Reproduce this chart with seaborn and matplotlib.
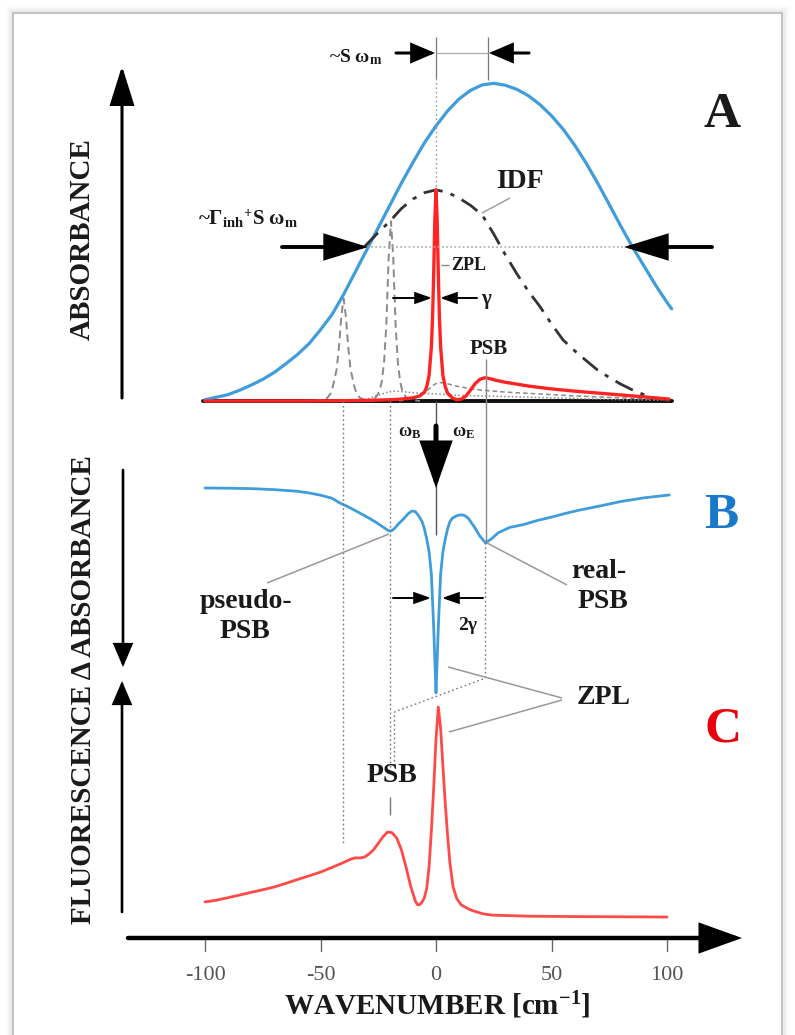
import matplotlib
matplotlib.use("Agg")
import matplotlib.pyplot as plt
import seaborn as sns
from matplotlib.patches import Rectangle

# ---------------- data ----------------
TICKS = [-100, -50, 0, 50, 100]
TICK_LABELS = ["-100", "-50", "0", "50", "100"]

# Panel A: broad absorption band (blue)
A_BAND_X = [-100, -95, -90, -85, -80, -75, -70, -65, -60, -55, -50, -45, -40, -35, -30, -25,
            -20, -15, -10, -5, 0, 5, 10, 15, 20, 25, 30, 35, 40, 45, 50, 55, 60, 65, 70, 75,
            80, 85, 90, 95, 100, 102]
A_BAND_Y = [0.004, 0.012, 0.020, 0.034, 0.050, 0.068, 0.090, 0.117, 0.146, 0.180, 0.224, 0.272,
            0.335, 0.405, 0.475, 0.545, 0.615, 0.685, 0.750, 0.812, 0.865, 0.912, 0.950, 0.977,
            0.994, 0.999, 0.993, 0.980, 0.960, 0.932, 0.897, 0.855, 0.805, 0.748, 0.685, 0.618,
            0.550, 0.485, 0.425, 0.365, 0.310, 0.290]

# Panel A: inhomogeneous distribution function (dash-dot)
IDF_X = [-31, -25, -20, -15, -10, -5, 0, 5, 10, 15, 20, 25, 30, 35, 40, 45, 50, 55, 60, 65, 70,
         75, 80, 85, 90, 95, 101]
IDF_Y = [0.485, 0.530, 0.565, 0.605, 0.635, 0.655, 0.664, 0.656, 0.638, 0.615, 0.585, 0.525,
         0.460, 0.400, 0.345, 0.297, 0.242, 0.192, 0.158, 0.127, 0.097, 0.074, 0.053, 0.035,
         0.020, 0.009, 0.001]

# Panel A: homogeneous line (ZPL + PSB, red)
ZPL_X = [-100, -60, -40, -30, -20, -15, -10, -7, -5, -4, -3, -2, -1.5, -1, -0.5, 0, 0.5, 1, 1.5,
         2, 3, 4, 5, 7, 9, 11, 13, 15, 17, 19, 21, 23, 26, 30, 35, 40, 50, 60, 70, 80, 90, 101]
ZPL_Y = [0.0, 0.0, 0.001, 0.002, 0.004, 0.006, 0.010, 0.016, 0.028, 0.045, 0.080, 0.170, 0.260,
         0.400, 0.570, 0.664, 0.570, 0.400, 0.260, 0.170, 0.080, 0.045, 0.025, 0.010, 0.004,
         0.006, 0.016, 0.035, 0.055, 0.068, 0.073, 0.071, 0.065, 0.059, 0.053, 0.047, 0.038,
         0.031, 0.025, 0.019, 0.013, 0.006]

# Panel A: shifted (pseudo) zero-phonon lines (grey dashed)
PZ1_X = [-53, -49, -47, -45.5, -44.5, -43, -42, -41, -40, -39, -38, -37, -35.5, -34.5, -33, -31, -27]
PZ1_Y = [0.0, 0.004, 0.010, 0.025, 0.050, 0.100, 0.170, 0.265, 0.322, 0.265, 0.170, 0.100,
         0.050, 0.025, 0.010, 0.004, 0.0]
PZ2_X = [-32, -28, -26, -24.5, -23.5, -22.5, -21.5, -20.5, -19.5, -18.5, -17.5, -16.5, -15.5,
         -14.5, -13, -11, -7]
PZ2_Y = [0.0, 0.005, 0.012, 0.030, 0.060, 0.120, 0.240, 0.450, 0.565, 0.450, 0.240, 0.120,
         0.060, 0.030, 0.012, 0.005, 0.0]

# Panel A: phonon side bands of the pseudo lines
PSB2_X = [-16, -10, -5, -2, 0, 2, 5, 10, 15, 20, 30, 40, 50, 60, 70, 80, 90, 100]
PSB2_Y = [0.0, 0.008, 0.025, 0.045, 0.055, 0.058, 0.054, 0.045, 0.039, 0.034, 0.028, 0.024,
          0.020, 0.016, 0.013, 0.010, 0.007, 0.004]
PSB1_X = [-36, -30, -25, -21, -18, -14, -8, 0, 10, 20, 30, 40, 50, 60, 70, 80, 90, 100]
PSB1_Y = [0.0, 0.006, 0.018, 0.028, 0.031, 0.029, 0.025, 0.022, 0.018, 0.016, 0.014, 0.012,
          0.010, 0.008, 0.006, 0.004, 0.003, 0.002]

# Panel B: hole-burned difference spectrum (blue)
B_X = [-100, -90, -80, -70, -60, -55, -50, -45, -41.6, -38, -35, -32, -29, -26, -23, -21, -20,
       -19, -18, -16, -14, -12, -10.4, -9, -8, -7, -6, -5, -4, -3, -2, -1, -0.5, 0, 0.5, 1, 2,
       3, 4, 5, 6, 7, 8.5, 10, 11.2, 12.5, 14, 16.6, 19, 21.5, 24, 27, 32, 38, 44, 50, 56, 62,
       70, 80, 90, 101]
B_Y = [0.0, -0.001, -0.003, -0.008, -0.016, -0.024, -0.035, -0.050, -0.073, -0.092, -0.110,
       -0.128, -0.147, -0.167, -0.190, -0.205, -0.210, -0.207, -0.198, -0.172, -0.150, -0.125,
       -0.112, -0.115, -0.128, -0.145, -0.165, -0.200, -0.250, -0.310, -0.420, -0.680, -0.840,
       -1.0, -0.840, -0.680, -0.420, -0.310, -0.250, -0.200, -0.165, -0.148, -0.138, -0.132,
       -0.131, -0.135, -0.148, -0.190, -0.235, -0.268, -0.248, -0.218, -0.192, -0.178, -0.158,
       -0.142, -0.124, -0.108, -0.090, -0.066, -0.048, -0.034]

# Panel C: fluorescence spectrum (red)
C_X = [-100, -95, -90, -85, -80, -75, -70, -65, -60, -55, -50, -45, -40, -37, -35, -33, -31, -29,
       -27, -25, -23, -21, -19, -17, -15, -13, -11, -9, -8, -7, -6, -5, -4, -3, -2, -1, 0, 1,
       2, 3, 4, 5, 6, 7.4, 9, 11, 15, 20, 24, 40, 60, 80, 100]
C_Y = [0.085, 0.093, 0.105, 0.117, 0.130, 0.142, 0.155, 0.172, 0.190, 0.207, 0.225, 0.247,
       0.270, 0.285, 0.292, 0.291, 0.295, 0.310, 0.330, 0.360, 0.390, 0.413, 0.410, 0.385,
       0.330, 0.250, 0.160, 0.090, 0.072, 0.072, 0.085, 0.105, 0.150, 0.250, 0.420, 0.620,
       0.850, 1.0, 0.900, 0.720, 0.550, 0.400, 0.270, 0.155, 0.100, 0.070, 0.047, 0.030,
       0.023, 0.018, 0.016, 0.015, 0.014]

# ---------------- layout ----------------
W, H = 795, 1035
X0, PXU = 436, 2.31          # pixel of wavenumber 0, pixels per cm-1
A_BASE, A_SCALE = 401, 318
B_BASE, B_SCALE = 488, 205
C_BASE, C_SCALE = 920, 213

BLUE = "#3f9ddc"
RED = "#ff2424"
RED_C = "#ff4a4a"
GREY = "#8a8a8a"
SERIF = ["Liberation Serif", "DejaVu Serif"]

sns.set_theme(style="white")
plt.rcParams["font.family"] = SERIF
plt.rcParams["mathtext.fontset"] = "custom"
plt.rcParams["mathtext.rm"] = "Liberation Serif:bold"
plt.rcParams["mathtext.it"] = "Liberation Serif:bold"
plt.rcParams["mathtext.bf"] = "Liberation Serif:bold"


def px2x(px):
    return (px - X0) / PXU


XLIM = (px2x(0), px2x(W))

fig = plt.figure(figsize=(W / 100, H / 100), dpi=100)
fig.patch.set_facecolor("white")


def panel_axes(base, scale, z):
    ax = fig.add_axes([0, 0, 1, 1], zorder=z)
    ax.set_xlim(XLIM)
    ax.set_ylim((base - H) / scale, base / scale)
    ax.patch.set_alpha(0)
    ax.axis("off")
    return ax


axA = panel_axes(A_BASE, A_SCALE, 2)
axB = panel_axes(B_BASE, B_SCALE, 2)
axC = panel_axes(C_BASE, C_SCALE, 2)
ann = fig.add_axes([0, 0, 1, 1], zorder=3)
ann.set_xlim(XLIM)
ann.set_ylim(H, 0)
ann.patch.set_alpha(0)
ann.axis("off")

# ---------------- frame ----------------
for off, a in [(0, 1.0), (2, 0.35), (4, 0.18), (6, 0.08)]:
    fig.patches.append(Rectangle(((13 - off) / W, -0.05), (769 + 2 * off) / W, (H - 13 + off) / H + 0.05,
                                 transform=fig.transFigure, fill=False,
                                 edgecolor="#b8b8b8", alpha=a, lw=1.2, zorder=0))

# ---------------- panel A curves ----------------
axA.plot([-101, 102], [0, 0], color="#111111", lw=2.8, zorder=1)
sns.lineplot(x=PSB1_X, y=PSB1_Y, ax=axA, color=GREY, lw=1.1, linestyle=(0, (1, 1.5)), sort=False, estimator=None)
sns.lineplot(x=PSB2_X, y=PSB2_Y, ax=axA, color=GREY, lw=1.1, linestyle=(0, (3, 2)), sort=False, estimator=None)
sns.lineplot(x=PZ1_X, y=PZ1_Y, ax=axA, color=GREY, lw=1.4, linestyle=(0, (4, 2.5)), sort=False, estimator=None)
sns.lineplot(x=PZ2_X, y=PZ2_Y, ax=axA, color=GREY, lw=1.4, linestyle=(0, (4, 2.5)), sort=False, estimator=None)
sns.lineplot(x=A_BAND_X, y=A_BAND_Y, ax=axA, color=BLUE, lw=2.3, sort=False, estimator=None)
sns.lineplot(x=IDF_X, y=IDF_Y, ax=axA, color="#333333", lw=2.0,
             linestyle=(0, (7, 3, 1.5, 3)), sort=False, estimator=None)
sns.lineplot(x=ZPL_X, y=ZPL_Y, ax=axA, color=RED, lw=2.4, sort=False, estimator=None)

# ---------------- panel B / C curves ----------------
sns.lineplot(x=B_X, y=B_Y, ax=axB, color=BLUE, lw=2.0, sort=False, estimator=None)
sns.lineplot(x=C_X, y=C_Y, ax=axC, color=RED_C, lw=2.0, sort=False, estimator=None)
for a in (axA, axB, axC):
    if a.get_legend():
        a.get_legend().remove()
    a.set_xlim(XLIM)
axA.set_ylim((A_BASE - H) / A_SCALE, A_BASE / A_SCALE)
axB.set_ylim((B_BASE - H) / B_SCALE, B_BASE / B_SCALE)
axC.set_ylim((C_BASE - H) / C_SCALE, C_BASE / C_SCALE)
for a in (axA, axB, axC):
    a.axis("off")


# ---------------- annotation helpers ----------------
def arrow(x0, y0, x1, y1, lw, hl, hw, color="black"):
    ann.annotate("", xy=(px2x(x1), y1), xytext=(px2x(x0), y0),
                 arrowprops=dict(arrowstyle=f"-|>,head_length={hl},head_width={hw}",
                                 lw=lw, color=color, shrinkA=0, shrinkB=0,
                                 mutation_scale=1, joinstyle="miter"))


def line(pts, color="#777777", lw=1.0, ls="-"):
    ann.plot([px2x(p[0]) for p in pts], [p[1] for p in pts], color=color, lw=lw, ls=ls,
             solid_capstyle="butt")


def text(px, py, s, size, weight="bold", color="#1a1a1a", ha="center", rot=0):
    ann.text(px2x(px), py, s, fontsize=size, fontweight=weight, color=color,
             ha=ha, va="center", rotation=rot, family=SERIF)


DOT = (0, (1.2, 2))

# guide lines
line([(436, 37), (436, 78)], "#777777", 0.9)
line([(436, 78), (436, 190)], "#999999", 1.0, DOT)
line([(488, 37), (488, 80)], "#777777", 0.9)
line([(436, 53), (488, 53)], "#aaaaaa", 0.9)
line([(367, 247), (625, 247)], "#aaaaaa", 1.2, (0, (1, 1.5)))
line([(343, 401), (343, 845)], "#777777", 1.0, DOT)
line([(390, 401), (390, 768)], "#777777", 1.0, DOT)
line([(485.5, 359), (485.5, 543)], "#888888", 1.0)
line([(485.5, 543), (485.5, 678), (394.5, 712), (394.5, 768)], "#777777", 1.0, DOT)
line([(436, 401), (436, 535)], "#555555", 1.0)
line([(390, 797), (390, 815)], "#777777", 1.0)

# callout lines
line([(482, 213), (510, 198)], "#999999", 1.0)
line([(441, 265), (449, 265)], "#888888", 1.0)
line([(267, 583), (389, 534)], "#999999", 1.1)
line([(487, 543), (567, 585)], "#999999", 1.1)
line([(448, 667), (562, 698)], "#999999", 1.1)
line([(449, 732), (562, 700)], "#999999", 1.1)

# arrows
arrow(282, 247, 368, 247, 2.8, 26, 8)
arrow(712, 247, 624, 247, 2.8, 26, 8)
arrow(396, 53, 435, 53, 2.2, 14, 6)
arrow(529, 53, 489, 53, 2.2, 14, 6)
arrow(393, 298, 432, 298, 1.4, 10, 3.5)
arrow(477, 298, 440, 298, 1.4, 10, 3.5)
arrow(393, 598, 431, 598, 1.4, 10, 3.5)
arrow(483, 598, 442, 598, 1.4, 10, 3.5)
arrow(436, 426, 436, 488, 3.6, 27, 9.5)
arrow(122, 398, 122, 66, 2.2, 24, 7.5)
arrow(123, 470, 123, 667, 1.9, 14, 6)
arrow(122, 912, 122, 681, 1.9, 14, 6)
arrow(128, 938, 742, 938, 3.2, 25, 9)

# x-axis ticks and labels
for t, lab in zip(TICKS, TICK_LABELS):
    ann.plot([t, t], [939, 951], color="#666666", lw=1.0)
    ann.text(t, 975, lab, fontsize=16, color="#555555", ha="center", va="center", family=SERIF)

# texts
text(82, 239, "ABSORBANCE", 21, rot=90)
text(84, 690, "FLUORESCENCE Δ ABSORBANCE", 21, rot=90)
text(382, 57, r"~S ω$_{\mathrm{m}}$", 14, ha="right")
text(248, 219, r"~Γ$_{\mathrm{inh}}{}^{+}$S ω$_{\mathrm{m}}$", 15)
text(520, 181, "IDF", 20)
text(451, 266, "ZPL", 13, ha="left")
text(486, 299, "γ", 15)
text(489, 349, "PSB", 15)
text(722, 115, "A", 37)
text(410, 433, r"ω$_{\mathrm{B}}$", 13)
text(464, 433, r"ω$_{\mathrm{E}}$", 13)
text(246, 601, "pseudo-", 20)
text(245, 632, "PSB", 20)
text(599, 571, "real-", 20)
text(603, 602, "PSB", 20)
text(468, 625, "2γ", 14)
text(604, 698, "ZPL", 20)
text(721, 516, "B", 37, color="#1a78c8")
text(392, 776, "PSB", 20)
text(723, 730, "C", 37, color="#e8000b")
text(437, 1005, r"WAVENUMBER [cm$^{\mathrm{-1}}$]", 21)

fig.savefig("out.png", dpi=100, facecolor="white")
